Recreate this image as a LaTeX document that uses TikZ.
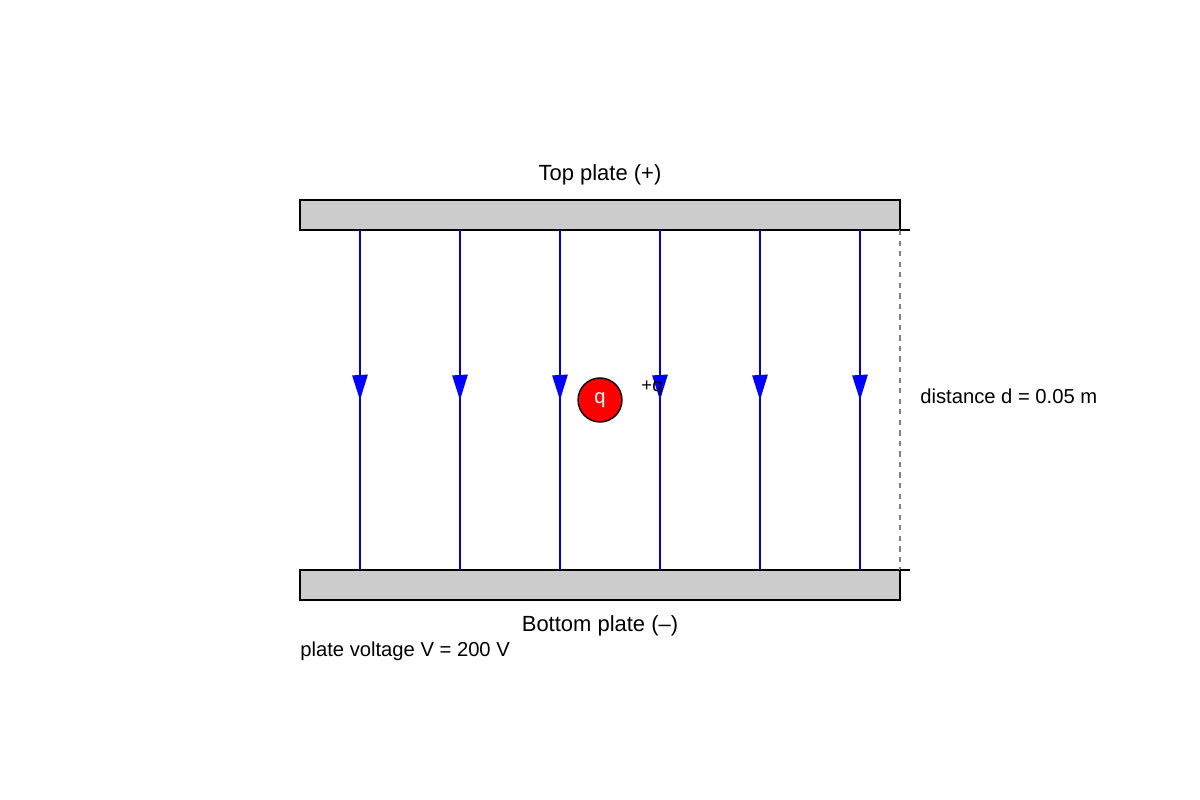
\documentclass[tikz,border=0pt]{standalone}
\usepackage{fontspec}
\setmainfont{Liberation Sans}
\usepackage{tikz}
\usetikzlibrary{arrows.meta,decorations.markings}
\definecolor{platecolor}{RGB}{204,204,204}
\definecolor{fieldcolor}{RGB}{0,0,200}

\tikzset{
  plate/.style={draw=black, fill=platecolor, line width=0.8pt},
  fieldline/.style={draw=fieldcolor, line width=0.8pt,
    postaction={decorate},
    decoration={markings, mark=at position 0.5 with {\fill[blue] (-0.5pt,0) ++(-14pt,4.5pt) -- (0,0) -- ++(-14pt,-4.5pt) -- cycle;}}},
  lbl/.style={font=\fontsize{11.5pt}{13pt}\selectfont, inner sep=0pt}
}

\begin{document}
\begin{tikzpicture}[x=0.02cm, y=-0.02cm]
        \useasboundingbox (0,0) rectangle (1200,800);
        % plates
        \node[plate, minimum width=12cm, minimum height=0.6cm, inner sep=0pt] (top) at (600,215) {};
        \node[plate, minimum width=12cm, minimum height=0.6cm, inner sep=0pt] (bottom) at (600,585) {};
        \node[lbl, font=\fontsize{12.5pt}{14pt}\selectfont, above=8pt] at (top.north) {Top plate (+)};
        \node[lbl, font=\fontsize{12.5pt}{14pt}\selectfont, below=8pt] (blabel) at (bottom.south) {Bottom plate (--)};
        \node[lbl, anchor=west] (volt) at (300,651) {plate voltage V = 200 V};
        % field lines
        \foreach \x/\n in {360/1,460/2,560/3,660/4,760/5,860/6} {
            \coordinate (t\n) at (\x,230);
            \coordinate (b\n) at (\x,570);
            \draw[fieldline] (t\n) -- (b\n);
        }
        % charge
        \node[circle, draw=black, fill=red, line width=0.8pt, minimum size=0.88cm, inner sep=0pt,
              text=white, font=\fontsize{11.5pt}{13pt}\selectfont] (q) at (600,400) {q};
        \node[lbl, font=\fontsize{10.5pt}{12pt}\selectfont] (qlabel) at (652,388) {+q};
        % distance marker
        \coordinate (d1) at (900,230);
        \coordinate (d2) at (900,570);
        \draw[gray, dashed, line width=0.6pt] (d1) -- (d2);
        \draw[black, line width=0.6pt] (d1) -- ++(10,0);
        \draw[black, line width=0.6pt] (d2) -- ++(10,0);
        \node[lbl, anchor=west] (dist) at (920,396) {distance d = 0.05 m};
\end{tikzpicture}
\end{document}
